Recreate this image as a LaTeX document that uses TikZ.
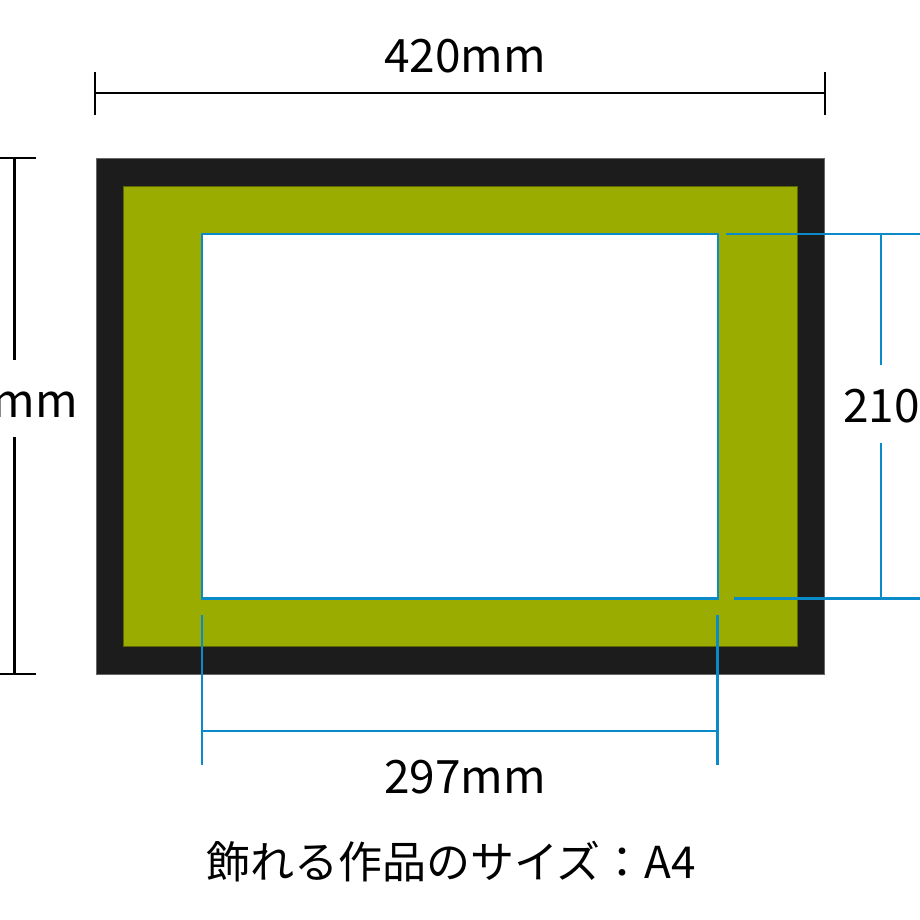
\documentclass[tikz,border=0pt]{standalone}
\usepackage{fontspec}
\setmainfont{Noto Sans CJK JP}
\definecolor{frameblack}{HTML}{1C1C1C}
\definecolor{matgreen}{HTML}{9BAC00}
\definecolor{dimblue}{HTML}{0A8AC9}
\begin{document}
\begin{tikzpicture}[x=1pt,y=-1pt,
  dimblack/.style={draw=black,line width=2.2pt},
  dimblu/.style={draw=dimblue,line width=2.4pt},
  lbl/.style={inner sep=0pt,font=\fontsize{46}{54}\selectfont},
  captext/.style={inner sep=0pt,font=\fontsize{44}{52}\selectfont}]
\useasboundingbox (0,0) rectangle (920,920);
\fill[white] (0,0) rectangle (920,920);
% frame, mat, window
\filldraw[fill=frameblack,draw=black!60,line width=1pt] (96,159) rectangle (824.5,674);
\filldraw[fill=matgreen,draw=black!40!matgreen,line width=0.7pt] (123.5,186.5) rectangle (797,646.5);
\filldraw[fill=white,draw=dimblue,line width=2.4pt] (202,234) rectangle (718,598.5);
% top dimension 420mm
\coordinate (tL) at (95,93);
\coordinate (tR) at (825,93);
\draw[dimblack] (95,72) -- (95,115);
\draw[dimblack] (825,72) -- (825,115);
\draw[dimblack] (tL) -- (tR);
\node[lbl,anchor=base] (t420) at (465,73) {420mm};
% left dimension
\coordinate (lT) at (14.5,158);
\coordinate (lB) at (14.5,674);
\coordinate (lG1) at (14.5,360);
\coordinate (lG2) at (14.5,437);
\draw[dimblack] (0,158) -- (36,158);
\draw[dimblack] (0,674) -- (36,674);
\draw[dimblack] (lT) -- (lG1);
\draw[dimblack] (lG2) -- (lB);
\node[lbl,anchor=base east] (lmm) at (78,417) {mm};
% right dimension 210
\coordinate (rT) at (881,234);
\coordinate (rB) at (881,598.5);
\coordinate (rG1) at (881,365);
\coordinate (rG2) at (881,443);
\draw[dimblu] (726,234) -- (920,234);
\draw[dimblu] (734,598.5) -- (920,598.5);
\draw[dimblu] (rT) -- (rG1);
\draw[dimblu] (rG2) -- (rB);
\node[lbl,anchor=base west] (r210) at (843,422) {210};
% bottom dimension 297mm
\coordinate (bL) at (202,731);
\coordinate (bR) at (717.5,731);
\draw[dimblu] (202,615) -- (202,765);
\draw[dimblu] (717.5,615) -- (717.5,765);
\draw[dimblu] (bL) -- (bR);
\node[lbl,anchor=base] (b297) at (465,793) {297mm};
% caption
\node[captext,anchor=base] (caption) at (451,878) {飾れる作品のサイズ：A4};
\end{tikzpicture}
\end{document}
